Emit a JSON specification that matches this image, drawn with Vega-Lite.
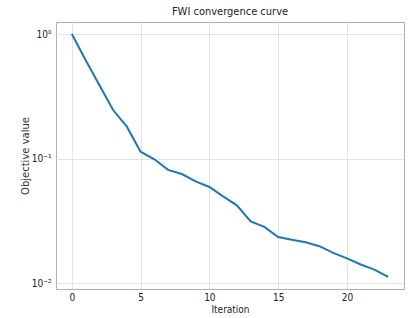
{
  "$schema": "https://vega.github.io/schema/vega-lite/v6.json",
  "autosize": {"type": "none"},
  "width": 348,
  "height": 267,
  "padding": {"left": 56, "top": 22, "right": 7, "bottom": 29},
  "background": "white",
  "title": {"text": "FWI convergence curve", "font": "DejaVu Sans Condensed, Liberation Sans", "fontSize": 11, "fontWeight": "normal", "color": "#222", "offset": 5},
  "config": {"view": {"stroke": "#b0b0b0", "strokeWidth": 1}},
  "data": {"values": [
    {"iter": 0, "obj": 1.0},
    {"iter": 1, "obj": 0.62},
    {"iter": 2, "obj": 0.39},
    {"iter": 3, "obj": 0.246},
    {"iter": 4, "obj": 0.181},
    {"iter": 5, "obj": 0.114},
    {"iter": 6, "obj": 0.099},
    {"iter": 7, "obj": 0.0815},
    {"iter": 8, "obj": 0.0755},
    {"iter": 9, "obj": 0.0658},
    {"iter": 10, "obj": 0.0594},
    {"iter": 11, "obj": 0.0499},
    {"iter": 12, "obj": 0.0423},
    {"iter": 13, "obj": 0.0315},
    {"iter": 14, "obj": 0.0284},
    {"iter": 15, "obj": 0.0236},
    {"iter": 16, "obj": 0.0224},
    {"iter": 17, "obj": 0.0214},
    {"iter": 18, "obj": 0.0199},
    {"iter": 19, "obj": 0.0176},
    {"iter": 20, "obj": 0.0159},
    {"iter": 21, "obj": 0.0142},
    {"iter": 22, "obj": 0.0129},
    {"iter": 23, "obj": 0.0113}
  ]},
  "mark": {"type": "line", "color": "#1f77b4", "strokeWidth": 2},
  "encoding": {
    "x": {"field": "iter", "type": "quantitative",
      "scale": {"domain": [-1.15, 24.15], "nice": false, "zero": false},
      "axis": {"title": "Iteration", "values": [0, 5, 10, 15, 20], "grid": true, "gridColor": "#e3e3e3", "ticks": false, "domain": true, "domainColor": "#b0b0b0", "labelFont": "DejaVu Sans Condensed, Liberation Sans", "labelFontSize": 10, "labelColor": "#222", "labelPadding": 3, "titleFont": "DejaVu Sans Condensed, Liberation Sans", "titleFontSize": 10, "titleFontWeight": "normal", "titleColor": "#222", "titlePadding": 2}},
    "y": {"field": "obj", "type": "quantitative",
      "scale": {"type": "log", "domain": [0.00903, 1.25], "nice": false},
      "axis": {"title": "Objective value", "values": [0.01, 0.1, 1], "labelExpr": "datum.value >= 0.5 ? '10⁰' : datum.value >= 0.05 ? '10⁻¹' : '10⁻²'", "grid": true, "gridColor": "#e3e3e3", "ticks": false, "domain": false, "labelFont": "DejaVu Sans Condensed, Liberation Sans", "labelFontSize": 10, "labelColor": "#222", "labelPadding": 5, "titleFont": "DejaVu Sans", "titleFontSize": 10, "titleFontWeight": "normal", "titleColor": "#333", "titlePadding": 1}}
  }
}
